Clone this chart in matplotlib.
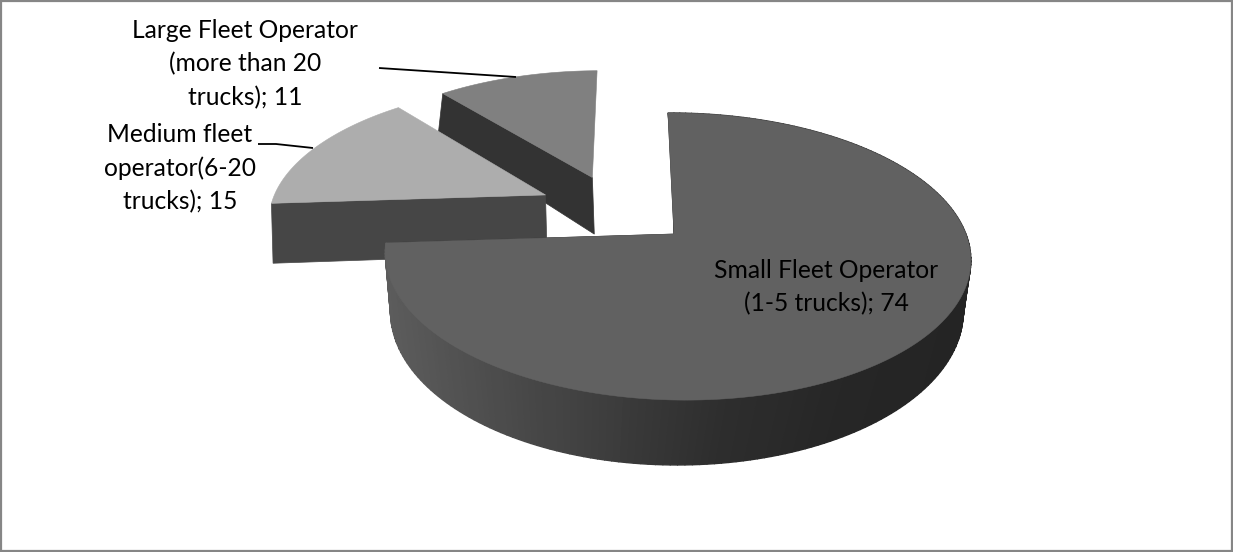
import numpy as np
import matplotlib
matplotlib.use("Agg")
import matplotlib.pyplot as plt
from matplotlib.patches import Polygon, Rectangle

# pie values, in drawing order clockwise from twelve o'clock
categories = ["Small Fleet Operator\n(1-5 trucks); 74",
              "Medium fleet\noperator(6-20\ntrucks); 15",
              "Large Fleet Operator\n(more than 20\ntrucks); 11"]
values = [74, 15, 11]

top_colors = ["#616161", "#adadad", "#808080"]
wall_colors = ["#2b2b2b", "#464646", "#333333"]

# exploded offset of each slice on the pie plane
explode_x = [0.0, -0.46, -0.292]
explode_y = [0.0, 0.293, 0.432]

W, H = 1233, 552
CX = 674
CY = 234


def project(x, y, rx, ry, cy, kx, ky, shear):
    w = 1 + ky * y + kx * x
    sx = rx * x / w
    sy = ry * y / w
    return CX + sx + shear * sy, cy - sy


def top_plane(x, y):
    return project(x, y, 289, 140, CY, -0.01, 0.157, -0.05)


def bottom_plane(x, y):
    return project(x, y, 285, 152, 297, -0.01, 0.095, 0.0)


def wall_gray(x):
    g = np.interp(x, [385, 480, 600, 720, 850, 970], [92, 78, 62, 46, 38, 36])
    g = g / 255
    return (g, g, g)


fig = plt.figure(figsize=(W / 100, H / 100), dpi=100)
ax = fig.add_axes([0, 0, 1, 1])
ax.set_xlim(0, W)
ax.set_ylim(H, 0)
ax.axis("off")

ax.add_patch(Rectangle((1, 1), W - 2, H - 2, fill=False, edgecolor="#868686", linewidth=1.6))

edges = np.cumsum([0] + values) / sum(values) * 2 * np.pi

# back slices first so that the big one lies over them
for i in [2, 1, 0]:
    th = np.linspace(edges[i], edges[i + 1], 200)
    x = np.sin(th) + explode_x[i]
    y = np.cos(th) + explode_y[i]
    ox, oy = explode_x[i], explode_y[i]

    tx, ty = top_plane(x, y)
    bx, by = bottom_plane(x, y)
    ax0, ay0 = top_plane(ox, oy)
    bx0, by0 = bottom_plane(ox, oy)

    # cut faces, the small slices only show the one facing front
    for j in ([0, -1] if i == 0 else [0]):
        ax.add_patch(Polygon([(ax0, ay0), (tx[j], ty[j]), (bx[j], by[j]), (bx0, by0)],
                             facecolor=wall_colors[i], edgecolor=wall_colors[i], linewidth=0.5))

    # outer wall
    if i == 0:
        for j in range(len(th) - 1):
            c = wall_gray((tx[j] + tx[j + 1]) / 2)
            ax.add_patch(Polygon([(tx[j], ty[j]), (tx[j + 1], ty[j + 1]),
                                  (bx[j + 1], by[j + 1]), (bx[j], by[j])],
                                 facecolor=c, edgecolor=c, linewidth=1.0))

    pts = [(ax0, ay0)] + list(zip(tx, ty))
    ax.add_patch(Polygon(pts, facecolor=top_colors[i], edgecolor=top_colors[i], linewidth=0.4))

# leader lines
ax.plot([379, 516], [68, 77], color="black", linewidth=1.3, solid_capstyle="butt")
ax.plot([258, 276, 313], [144, 144, 148], color="black", linewidth=1.3, solid_capstyle="butt")

font = dict(family="Lato", fontsize=17.7, ha="center", va="center", linespacing=1.53)
ax.text(826, 287, categories[0], color="black", **font)
ax.text(180, 168, categories[1], color="black", **font)
ax.text(245, 64, categories[2], color="black", **font)

fig.savefig("out.png", dpi=100)
